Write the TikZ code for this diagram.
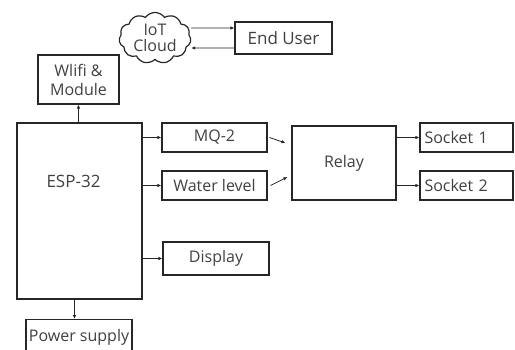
\documentclass[tikz,border=0pt]{standalone}
\usepackage{fontspec}
\setmainfont{Open Sans}
\usetikzlibrary{arrows.meta,positioning,shapes.symbols}

\begin{document}
\begin{tikzpicture}[x=1pt,y=-1pt,>={Latex[length=4pt,width=3.5pt]}]

\tikzstyle{block}=[
  rectangle,
  draw=black!85,
  line width=1.1pt,
  inner sep=0pt,
  align=center,
  text=black!75,
  font=\fontsize{16}{19}\selectfont
]

\useasboundingbox (0,0) rectangle (515,349);
\clip (0,0) rectangle (515,349);

\node[block, shape=cloud, cloud puffs=11, cloud puff arc=110, aspect=1.4,
  minimum width=72pt, minimum height=50pt, line width=1.2pt] (cloud) at (155,38)
{IoT\\[-3pt]Cloud};

\node[block, minimum width=97pt, minimum height=32pt,
  font=\fontsize{17}{19}\selectfont] (user) at (283.5,38) {End User};

\node[block, minimum width=81pt, minimum height=49pt] (wifi) at (78.5,79.5)
{Wlifi \&\\Module};

\node[block, line width=1.6pt, minimum width=125pt, minimum height=176pt,
  label={[text=black!75, font=\fontsize{17}{19}\selectfont,
  xshift=-6pt, yshift=30pt]center:ESP-32}] (esp) at (79.5,211) {};

\node[block, minimum width=105pt, minimum height=29pt] (mq) at (214.5,137.5) {MQ-2};
\node[block, minimum width=105pt, minimum height=29pt] (water) at (214.5,185.5) {Water level};

\node[block, minimum width=104pt, minimum height=74pt] (relay) at (344,163) {Relay};

\node[block, text width=84pt, inner xsep=4.5pt, align=left, minimum height=29pt]
  (sockA) at (466.5,137.5) {Socket 1};
\node[block, text width=84pt, inner xsep=4.5pt, align=left, minimum height=29pt]
  (sockB) at (466.5,185.5) {Socket 2};

\node[block, minimum width=106pt, minimum height=33pt] (disp) at (216,258.5) {Display};

\node[block, minimum width=106pt, minimum height=36pt, anchor=north] (power) at (79,319)
{Power supply};

% Cloud and user
\draw[->, thick, black!85] ([yshift=10pt]cloud.east) -- ([yshift=10pt]user.west);
\draw[->, thick, black!85] ([yshift=-10pt]user.west) -- ([yshift=-10pt]cloud.east);

% From the controller
\draw[->, thick, black!85] (esp.north -| wifi) -- (wifi.south);
\draw[->, thick, black!85] (esp.east |- mq) -- (mq.west);
\draw[->, thick, black!85] (esp.east |- water) -- (water.west);
\draw[->, thick, black!85] (esp.east |- disp) -- (disp.west);
\draw[->, thick, black!85] ([xshift=-5pt]esp.south) -- ([xshift=-5pt]esp.south |- power.north);

% Sensors to relay
\draw[->, thick, black!85] ([xshift=2pt]mq.east) -- ([xshift=-6pt,yshift=20pt]relay.west);
\draw[->, thick, black!85] ([xshift=3pt]water.east) -- ([xshift=-4pt,yshift=-14pt]relay.west);

% Relay to sockets
\draw[->, thick, black!85] (relay.east |- sockA) -- (sockA.west);
\draw[->, thick, black!85] (relay.east |- sockB) -- (sockB.west);

\end{tikzpicture}
\end{document}
